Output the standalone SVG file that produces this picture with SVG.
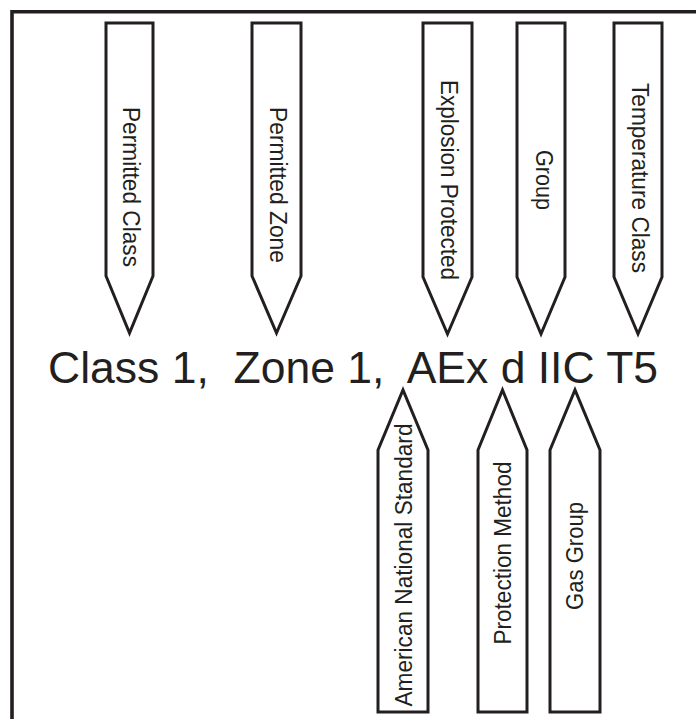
<svg xmlns="http://www.w3.org/2000/svg" width="696" height="719" viewBox="0 0 696 719">
<style>
.frame{fill:none;stroke:#231f20;stroke-width:3.6}
.tag{fill:#fff;stroke:#231f20;stroke-width:3;stroke-linejoin:miter}
.lbl{font-family:"Liberation Sans",Arial,sans-serif;font-size:23.5px;fill:#231f20;text-anchor:middle}
.main{font-family:"Liberation Sans",Arial,sans-serif;font-size:44.5px;fill:#231f20}
</style>
<rect width="696" height="719" fill="#fff"/>
<path class="frame" d="M12,719 V11.8 H696"/>
<text id="code" class="main" x="48" y="383" xml:space="preserve">Class 1,  Zone 1,  AEx d IIC T5</text>
<g id="permitted-class">
<polygon class="tag" points="106,23 153,23 153,276 129.5,333 106,276"/>
<text class="lbl" transform="translate(122.5,187) rotate(90)" textLength="160" lengthAdjust="spacingAndGlyphs">Permitted Class</text>
</g>
<g id="permitted-zone">
<polygon class="tag" points="252,23 301,23 301,276 276.5,333 252,276"/>
<text class="lbl" transform="translate(269.5,185) rotate(90)" textLength="156" lengthAdjust="spacingAndGlyphs">Permitted Zone</text>
</g>
<g id="explosion-protected">
<polygon class="tag" points="423,23 472,23 472,277 447.5,334 423,277"/>
<text class="lbl" transform="translate(441,180) rotate(90)" textLength="200" lengthAdjust="spacingAndGlyphs">Explosion Protected</text>
</g>
<g id="group">
<polygon class="tag" points="517,23 565,23 565,277 541,334 517,277"/>
<text class="lbl" transform="translate(535.5,180) rotate(90)" textLength="60" lengthAdjust="spacingAndGlyphs">Group</text>
</g>
<g id="temperature-class">
<polygon class="tag" points="614,23 662,23 662,277 638,334 614,277"/>
<text class="lbl" transform="translate(631.5,178) rotate(90)" textLength="190" lengthAdjust="spacingAndGlyphs">Temperature Class</text>
</g>
<g id="american-national-standard">
<polygon class="tag" points="378,712 428,712 428,450 403,390 378,450"/>
<text class="lbl" transform="translate(412,565) rotate(-90)" textLength="283" lengthAdjust="spacingAndGlyphs">American National Standard</text>
</g>
<g id="protection-method">
<polygon class="tag" points="478,712 527,712 527,450 502.5,390 478,450"/>
<text class="lbl" transform="translate(511,553) rotate(-90)" textLength="183" lengthAdjust="spacingAndGlyphs">Protection Method</text>
</g>
<g id="gas-group">
<polygon class="tag" points="550,712 600,712 600,450 575,390 550,450"/>
<text class="lbl" transform="translate(583,556) rotate(-90)" textLength="108" lengthAdjust="spacingAndGlyphs">Gas Group</text>
</g>
</svg>
